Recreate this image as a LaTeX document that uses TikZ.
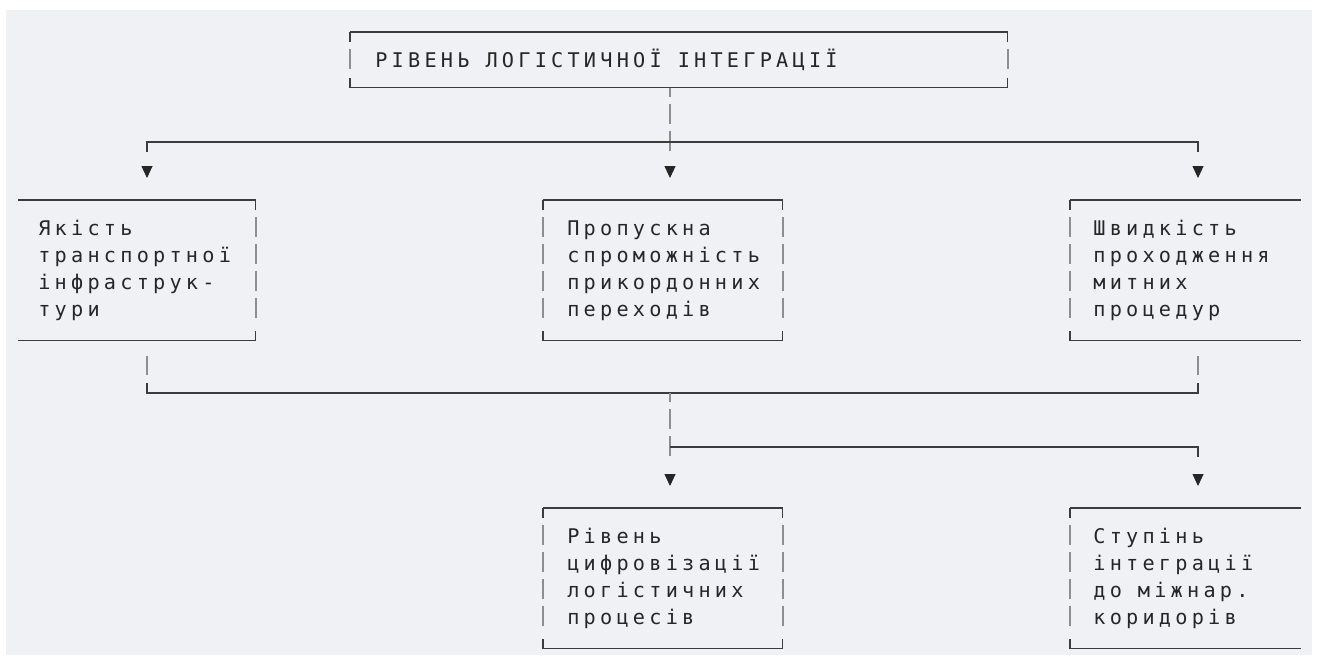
\documentclass[tikz,border=0pt]{standalone}
\usepackage{fontspec}
\newfontfamily\asciifont{DejaVu Sans Mono}[LetterSpace=21]
\usetikzlibrary{arrows.meta}
\definecolor{paper}{HTML}{F0F1F5}
\definecolor{ink}{HTML}{262626}
\definecolor{rule}{HTML}{3C3C3C}
\definecolor{bar}{HTML}{8E8E8E}
\newcommand\asciisize{\asciifont\fontsize{11.5}{15.37}\selectfont}
\newcommand\cellgap{\hspace{0.32cm}}
\begin{document}
\begin{tikzpicture}[x=0.02cm,y=-0.02cm,
  box/.style={anchor=north west,inner ysep=0pt,minimum height=2.8cm,align=left,text=ink,
    font=\asciisize},
  wire/.style={rule,line width=0.85pt},
  bars/.style={bar,line width=1.1pt},
  sides/.style={bars,dash pattern=on 0.4cm off 0.14cm},
  tip/.style={-{Triangle[length=0.24cm,width=0.22cm]},black!85,line width=0.5pt}]
 \fill[white] (0,0) rectangle (1317,659);
 \fill[paper] (6,10) rectangle (1312,655);
 \node[box,text width=12.14cm,inner xsep=0.5cm,minimum height=1.1cm] (top) at (350,32) {РІВЕНЬ\cellgap ЛОГІСТИЧНОЇ\cellgap ІНТЕГРАЦІЇ};
 \node[box,text width=3.94cm,inner xsep=0.4cm] (m1) at (18,200) {Якість\\транспортної\\інфраструк-\\тури};
 \node[box,text width=3.82cm,inner xsep=0.48cm] (m2) at (543,200) {Пропускна\\спроможність\\прикордонних\\переходів};
 \node[box,text width=3.68cm,inner xsep=0.46cm] (m3) at (1070,200) {Швидкість\\проходження\\митних\\процедур};
 \node[box,text width=3.82cm,inner xsep=0.48cm] (b1) at (543,508) {Рівень\\цифровізації\\логістичних\\процесів};
 \node[box,text width=3.68cm,inner xsep=0.46cm] (b2) at (1070,508) {Ступінь\\інтеграції\\до\cellgap міжнар.\\коридорів};
 % frames
 \foreach \n in {top,m1,m2,m3,b1,b2}
  \draw[wire] (\n.north west) -- (\n.north east) (\n.south west) -- (\n.south east);
 \foreach \n in {top,m2,m3,b1,b2}{
  \draw[wire] (\n.north west) -- ++(0,10) (\n.south west) -- ++(0,-10);
  \draw[sides] ([yshift=-0.34cm]\n.north west) -- ([yshift=0.34cm]\n.south west);
 }
 \foreach \n in {top,m1,m2,b1}{
  \draw[wire] (\n.north east) -- ++(0,10) (\n.south east) -- ++(0,-10);
  \draw[sides] ([yshift=-0.34cm]\n.north east) -- ([yshift=0.34cm]\n.south east);
 }
 % junctions
 \coordinate (j1) at (147,142);
 \coordinate (j2) at (670,142);
 \coordinate (j3) at (1198,142);
 \coordinate (k1) at (147,393);
 \coordinate (k2) at (670,393);
 \coordinate (k3) at (1198,393);
 \coordinate (l1) at (670,447);
 \coordinate (l2) at (1198,447);
 % upper level
 \draw[sides,dash phase=0.22cm,shorten >=-0.22cm] (top.south -| j2) -- (j2);
 \draw[wire] (j1) ++(0,10) -- (j1) -- (j3) -- ++(0,10);
 \foreach \j/\n in {j1/m1,j2/m2,j3/m3}
  \draw[tip,shorten <=0.48cm,shorten >=0.44cm] (\j) -- (\n.north -| \j);
 % lower level
 \draw[bars,shorten <=0.3cm,shorten >=0.36cm] (m1.south -| k1) -- (k1);
 \draw[bars,shorten <=0.3cm,shorten >=0.36cm] (m3.south -| k3) -- (k3);
 \draw[wire] (k1) ++(0,-10) -- (k1) -- (k3) -- ++(0,-10);
 \draw[sides,dash phase=0.22cm,shorten >=1cm] (k2) -- (b1.north -| k2);
 \draw[wire] (l1) -- (l2) -- ++(0,10);
 \draw[tip,shorten <=0.54cm,shorten >=0.44cm] (l1) -- (b1.north -| l1);
 \draw[tip,shorten <=0.54cm,shorten >=0.44cm] (l2) -- (b2.north -| l2);
\end{tikzpicture}
\end{document}
